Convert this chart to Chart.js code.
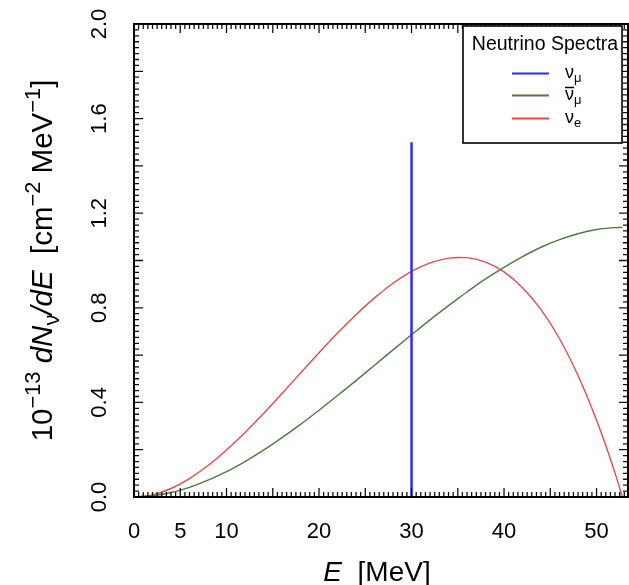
<!DOCTYPE html>
<html><head><meta charset="utf-8">
<script src="https://cdn.jsdelivr.net/npm/chart.js@4.4.0/dist/chart.umd.min.js"></script>
<style>html,body{margin:0;padding:0;background:#fff;}canvas{display:block;}</style>
</head><body>
<canvas id="c" width="629" height="585"></canvas>
<script>
// ---- data ----
const energyMeV   = [0,2,4,6,8,10,12,14,16,18,20,22,24,26,28,30,32,34,35.2,36,38,40,42,44,46,48,50,51,52,52.8];
const numuBarFlux = [0,0.005,0.019,0.041,0.071,0.107,0.150,0.198,0.251,0.307,0.367,0.429,0.492,0.557,0.622,0.686,0.749,0.809,0.844,0.867,0.922,0.971,1.016,1.056,1.088,1.113,1.131,1.136,1.139,1.140];
const nueFlux     = [0,0.009,0.036,0.078,0.133,0.199,0.273,0.353,0.438,0.524,0.610,0.693,0.771,0.842,0.904,0.954,0.990,1.010,1.013,1.012,0.993,0.952,0.885,0.792,0.669,0.514,0.325,0.218,0.101,0];
const numuLineE    = [30, 30];
const numuLineFlux = [0, 1.5];
const xTickValues = [0,5,10,20,30,40,50];
const yTickValues = [0,0.4,0.8,1.2,1.6,2.0];
const legendTitle = 'Neutrino Spectra';
const seriesNames = [['ν','μ',false],['ν','μ',true],['ν','e',false]];
const seriesColors = ['#2b2bff','#4e7a3f','#e64b4b'];

const FONT = '"Liberation Sans", Arial, Helvetica, sans-serif';

function fontFor(p, S){
  const sz = (p.sc || 1) * S;
  return (p.it ? 'italic ' : '') + sz + 'px ' + FONT;
}
function drawRich(ctx, parts, cx, cy, S){
  let w = 0;
  for (const p of parts){ ctx.font = fontFor(p,S); p.w = ctx.measureText(p.t).width; w += p.w; }
  let xx = cx - w/2;
  for (const p of parts){ ctx.font = fontFor(p,S); ctx.fillText(p.t, xx, cy + (p.dy||0)*S); xx += p.w; }
}

const framePlugin = {
  id: 'frame',
  afterDatasetsDraw(chart){
    const {ctx, chartArea: a, scales: {x, y}} = chart;
    ctx.save();
    ctx.fillStyle = '#000';
    ctx.strokeStyle = '#111';
    ctx.lineWidth = 1.3;
    ctx.beginPath();
    const nx = Math.floor(x.max / 0.5 + 1e-9);
    for (let i = 0; i <= nx; i++){
      const px = x.getPixelForValue(i*0.5);
      const len = (i % 10 === 0) ? 9 : 5;
      ctx.moveTo(px, a.bottom); ctx.lineTo(px, a.bottom - len);
      ctx.moveTo(px, a.top); ctx.lineTo(px, a.top + len);
    }
    for (let i = 0; i <= 80; i++){
      const py = y.getPixelForValue(i*0.025);
      const len = (i % 8 === 0) ? 9 : 5;
      ctx.moveTo(a.left, py); ctx.lineTo(a.left + len, py);
      ctx.moveTo(a.right, py); ctx.lineTo(a.right - len, py);
    }
    ctx.stroke();
    ctx.lineWidth = 2;
    ctx.strokeStyle = '#000';
    ctx.strokeRect(a.left, a.top, a.right - a.left, a.bottom - a.top);

    ctx.font = '22px ' + FONT;
    ctx.textAlign = 'center';
    ctx.textBaseline = 'alphabetic';
    for (const v of xTickValues){
      ctx.fillText(String(v), x.getPixelForValue(v), 538);
    }
    for (const v of yTickValues){
      ctx.save();
      ctx.translate(106, y.getPixelForValue(v));
      ctx.rotate(-Math.PI/2);
      ctx.fillText(v.toFixed(1), 0, 0);
      ctx.restore();
    }
    ctx.textAlign = 'left';
    drawRich(ctx, [{t:'E', it:true},{t:'  [MeV]'}], 377, 581, 28);
    ctx.save();
    ctx.translate(52, (a.top + a.bottom)/2);
    ctx.rotate(-Math.PI/2);
    drawRich(ctx, [
      {t:'10'},{t:'−13', sc:0.74, dy:-0.42},{t:' '},
      {t:'dN', it:true},{t:'ν', sc:0.74, dy:0.25},{t:'/', it:true},{t:'dE', it:true},
      {t:'  [cm'},{t:'−2', sc:0.74, dy:-0.42},{t:' MeV'},{t:'−1', sc:0.74, dy:-0.42},{t:']'}
    ], 0, 0, 29.5);
    ctx.restore();

    const lx = 463, ly = 26, lw = 159, lh = 117;
    ctx.fillStyle = '#fff';
    ctx.fillRect(lx, ly, lw, lh);
    ctx.lineWidth = 1.6;
    ctx.strokeStyle = '#000';
    ctx.strokeRect(lx, ly, lw, lh);
    ctx.fillStyle = '#000';
    ctx.font = '19.5px ' + FONT;
    ctx.textAlign = 'center';
    ctx.fillText(legendTitle, 545, 50);
    ctx.textAlign = 'left';
    const rows = [73.5, 95.5, 118.5];
    seriesNames.forEach((nm, i) => {
      const ry = rows[i];
      ctx.strokeStyle = seriesColors[i];
      ctx.lineWidth = 2;
      ctx.beginPath(); ctx.moveTo(512, ry); ctx.lineTo(549, ry); ctx.stroke();
      ctx.fillStyle = '#000';
      ctx.font = '18px ' + FONT;
      const gx = 565, base = ry + 4;
      ctx.fillText(nm[0], gx, base);
      const gw = ctx.measureText(nm[0]).width;
      if (nm[2]){
        ctx.strokeStyle = '#000'; ctx.lineWidth = 1.5;
        ctx.beginPath(); ctx.moveTo(gx, base - 12); ctx.lineTo(gx + gw, base - 12); ctx.stroke();
      }
      ctx.font = '13px ' + FONT;
      ctx.fillText(nm[1], gx + gw, base + 4);
    });
    ctx.restore();
  }
};

const toPts = (xs, ys) => xs.map((e, i) => ({x: e, y: ys[i]}));

new Chart(document.getElementById('c').getContext('2d'), {
  type: 'scatter',
  data: {
    datasets: [
      {label: 'νμ', data: toPts(numuLineE, numuLineFlux), showLine: true,
       borderColor: seriesColors[0], borderWidth: 2.5, pointRadius: 0},
      {label: 'ν̄μ', data: toPts(energyMeV, numuBarFlux), showLine: true,
       borderColor: seriesColors[1], borderWidth: 1.4, pointRadius: 0, cubicInterpolationMode: 'monotone'},
      {label: 'νe', data: toPts(energyMeV, nueFlux), showLine: true,
       borderColor: seriesColors[2], borderWidth: 1.4, pointRadius: 0, cubicInterpolationMode: 'monotone'}
    ]
  },
  options: {
    responsive: false,
    devicePixelRatio: 1,
    animation: false,
    layout: {padding: {left: 134, top: 24, right: 1, bottom: 88}},
    plugins: {legend: {display: false}, tooltip: {enabled: false}},
    scales: {
      x: {type: 'linear', min: 0, max: 53.4, display: false},
      y: {type: 'linear', min: 0, max: 2, display: false}
    }
  },
  plugins: [framePlugin]
});
</script>
</body></html>
